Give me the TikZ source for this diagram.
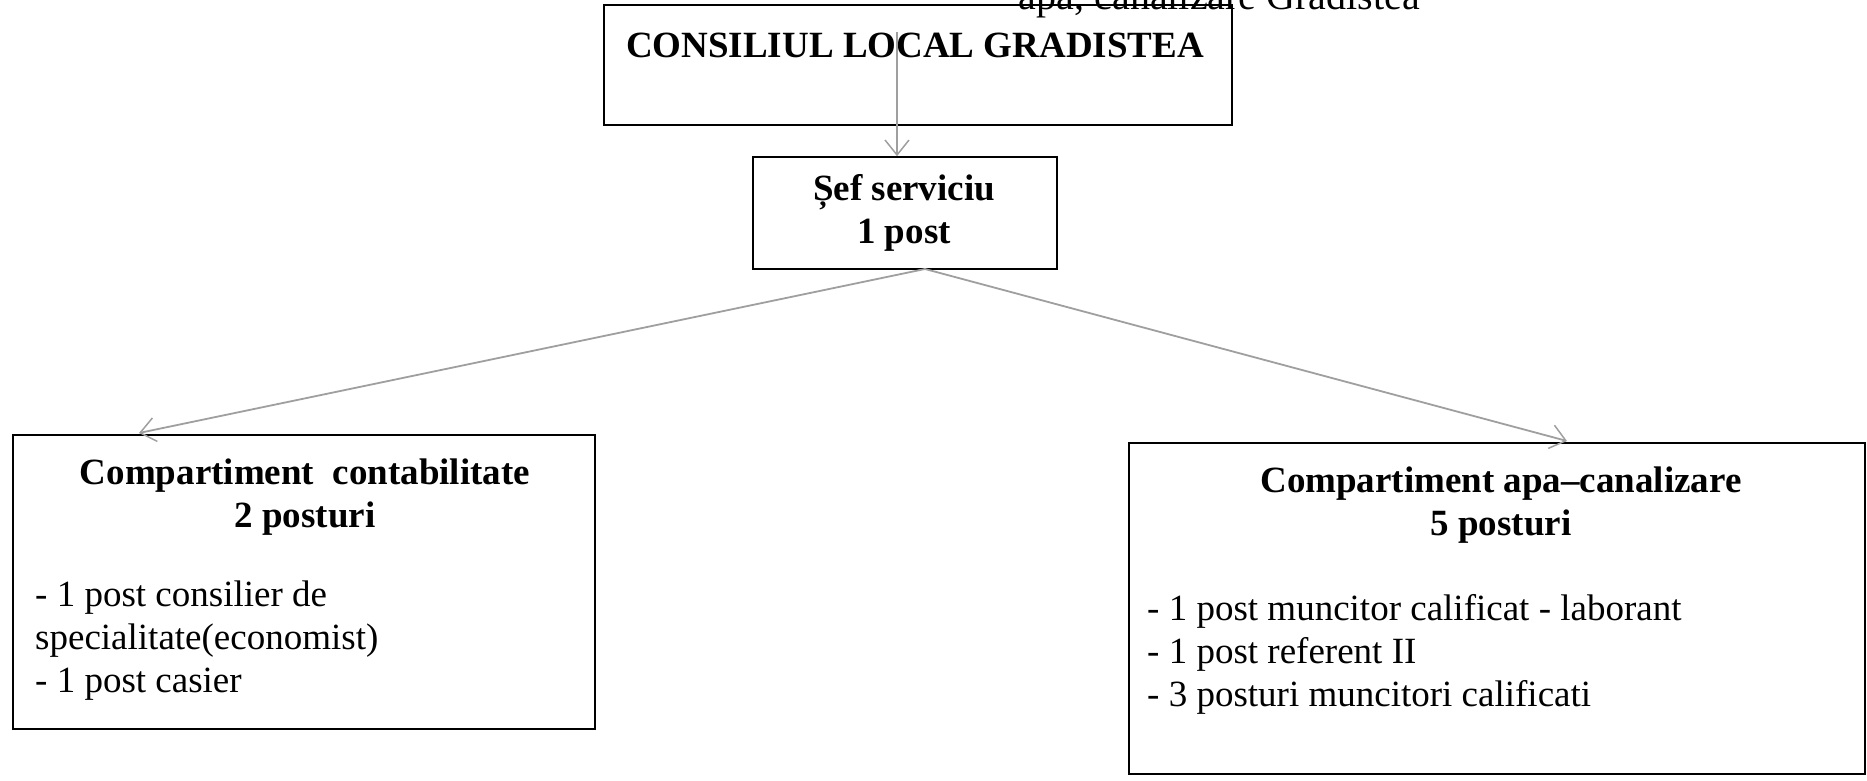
\documentclass[tikz,border=0pt]{standalone}
\usepackage{fontspec}
\setmainfont{Liberation Serif}
\usetikzlibrary{arrows.meta,positioning}

\begin{document}
\begin{tikzpicture}[x=1pt, y=-1pt,
    box/.style={draw, line width=1.6pt, inner sep=0pt},
    title/.style={font=\fontsize{37}{43}\selectfont\bfseries, align=center, inner sep=0pt},
    lines/.style={font=\fontsize{37}{43}\selectfont, align=left, anchor=north west, inner sep=0pt},
    link/.style={draw=gray!75, line width=1.8pt, -{Straight Barb[length=15pt, width=24pt, line width=1.5pt]}}
  ]
    \useasboundingbox (0,0) rectangle (1867,781);

    % Heading (cut off at the top of the page)
    \node[font=\fontsize{40}{48}\selectfont, anchor=base east, inner sep=0pt] (heading) at (1420,10) {apă, canalizare Gradistea};

    % Consiliul local
    \node[box, minimum width=628pt, minimum height=120pt] (consiliu) at (918,65) {};
    \node[title] (consiliuT) at (915,45) {CONSILIUL LOCAL GRADISTEA};

    % Sef serviciu
    \node[box, minimum width=304pt, minimum height=112pt] (sef) at (905,213) {};
    \node[title] (sefT) at (904,213) {Șef serviciu\\1 post};

    % Compartiment contabilitate
    \node[box, minimum width=582pt, minimum height=294pt] (contab) at (304,582) {};
    \node[title] (contabT) at (305,497) {Compartiment\ \ contabilitate\\2 posturi};
    \node[lines] (contabL) at (35,581) {- 1 post consilier de\\specialitate(economist)\\- 1 post casier};

    % Compartiment apa-canalizare
    \node[box, minimum width=736pt, minimum height=331pt] (apa) at (1497,608.5) {};
    \node[title] (apaT) at (1501,505) {Compartiment apa--canalizare\\5 posturi};
    \node[lines] (apaL) at (1147,594) {- 1 post muncitor calificat - laborant\\- 1 post referent II\\- 3 posturi muncitori calificati};

    % Connections
    \coordinate (down) at (897,32);
    \coordinate (fork) at (925,269);
    \coordinate (lefttip) at (139,433);
    \coordinate (righttip) at (1567,441);

    \draw[link] (down) -- (down |- sef.north);
    \draw[link] (fork) -- (lefttip);
    \draw[link] (fork) -- (righttip);

  \end{tikzpicture}
\end{document}
